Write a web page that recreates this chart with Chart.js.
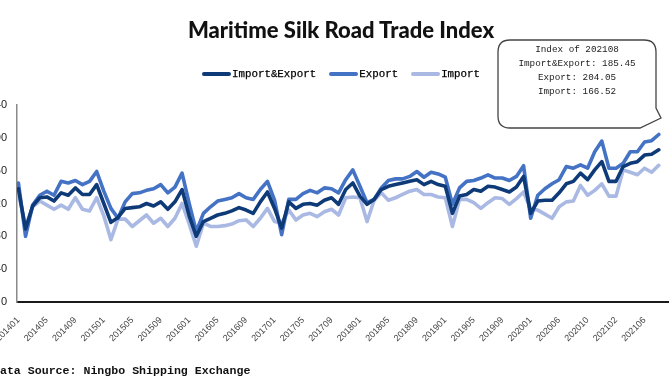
<!DOCTYPE html>
<html>
<head>
<meta charset="utf-8">
<script src="https://cdn.jsdelivr.net/npm/chart.js@4.4.0/dist/chart.umd.min.js"></script>
<style>
html,body{margin:0;padding:0;background:#fff;}
body{width:670px;height:380px;overflow:hidden;position:relative;font-family:"Liberation Sans",Arial,sans-serif;}
#wrap{position:absolute;left:-24px;top:0;width:694px;height:380px;}
#title{position:absolute;left:0;width:682px;top:16px;line-height:28px;text-align:center;font-weight:900;font-size:22px;font-family:Lato,"Liberation Sans",sans-serif;color:#111;white-space:nowrap;}
#legend{position:absolute;left:202px;top:66px;height:16px;display:flex;align-items:center;font-family:"Liberation Mono",monospace;font-size:10.8px;color:#000;white-space:nowrap;-webkit-text-stroke:0.25px #000;}
.item{display:flex;align-items:center;margin-right:13px;}
.swatch{display:inline-block;width:29px;height:4px;border-radius:2px;margin-right:1px;}
#callout{position:absolute;left:0;top:0;width:670px;height:140px;pointer-events:none;}
#calltext{position:absolute;left:498px;width:158px;top:43px;text-align:center;font-family:"Liberation Mono",monospace;font-size:9.3px;line-height:14px;color:#222;white-space:nowrap;}
#source{position:absolute;left:-7px;top:363px;font-family:"Liberation Mono",monospace;font-weight:bold;font-size:11.6px;line-height:16px;color:#111;white-space:nowrap;}
</style>
</head>
<body>
<div id="wrap"><canvas id="c"></canvas></div>
<div id="title">Maritime Silk Road Trade Index</div>
<div id="legend"></div>
<svg id="callout" width="670" height="140">
  <path d="M510,40 H644 Q656,40 656,52 V108 L661,118 L640,128 H510 Q498,128 498,116 V52 Q498,40 510,40 Z" fill="#fff" stroke="#444" stroke-width="1.3"/>
</svg>
<div id="calltext"></div>
<div id="source">Data Source: Ningbo Shipping Exchange</div>
<script>
const categories = [
"201401","201402","201403","201404","201405","201406","201407","201408","201409","201410","201411","201412",
"201501","201502","201503","201504","201505","201506","201507","201508","201509","201510","201511","201512",
"201601","201602","201603","201604","201605","201606","201607","201608","201609","201610","201611","201612",
"201701","201702","201703","201704","201705","201706","201707","201708","201709","201710","201711","201712",
"201801","201802","201803","201804","201805","201806","201807","201808","201809","201810","201811","201812",
"201901","201902","201903","201904","201905","201906","201907","201908","201909","201910","201911","201912",
"202001","202003","202004","202005","202006","202007","202008","202009","202010","202011","202012",
"202101","202102","202103","202104","202105","202106","202107","202108"
];
const seriesNames = ["Import&Export","Export","Import"];
const importExport = [
138,89,117,127,128,123,133,130,139,131,
131,143,120,97,103,114,115,116,120,117,
122,113,122,137,105,80,98,102,106,108,
111,115,112,108,122,134,114,90,122,114,
119,120,118,124,127,119,137,145,129,119,
125,137,141,143,145,147,149,143,147,143,
141,108,129,131,137,135,141,140,137,134,
140,153,108,123,124,124,133,144,147,157,
149,161,171,147,147,165,169,171,179,180,
185.45];
const exportIdx = [
145,80,118,130,135,130,147,145,148,143,
147,159,135,114,102,122,132,133,136,138,
143,133,140,157,120,86,108,116,123,125,
127,132,127,125,137,147,124,82,125,125,
132,136,133,139,138,133,149,161,141,121,
125,139,148,150,150,153,159,152,158,156,
152,119,139,147,148,151,155,151,151,148,
153,166,102,130,138,144,149,165,163,167,
163,183,196,163,163,169,183,183,195,196.5,
204.05];
const importIdx = [
132,92,116,123,118,113,118,113,127,113,
111,127,105,76,101,101,92,99,106,96,
102,92,102,120,95,68,96,92,92,93,
95,99,100,92,102,114,98,96,112,100,
106,108,104,110,113,106,127,128,127,98,
124,133,124,127,131,135,137,131,131,128,
127,92,125,125,121,114,121,127,126,119,
126,134,113,112,107,102,116,122,123,142,
130,136,144,129,129,161,158,155,163,158,
166.52];
const yTicks = [0,40,80,120,160,200,240];
const tickEvery = 4;

const colors = ["#0e3a78","#4472c4","#a9b9e3"];
const allSeries = [importExport, exportIdx, importIdx];

function pts(arr){ return arr.map((v,i)=>({x:i,y:v})); }

// legend
const lg = document.getElementById('legend');
seriesNames.forEach((n,k)=>{
  const it=document.createElement('div'); it.className='item';
  const sw=document.createElement('span'); sw.className='swatch'; sw.style.background=colors[k];
  const tx=document.createElement('span'); tx.textContent=n;
  it.appendChild(sw); it.appendChild(tx); lg.appendChild(it);
});
// callout
const last = categories.length-1;
document.getElementById('calltext').innerHTML =
  'Index of ' + categories[last] + '<br>' +
  seriesNames[0] + ': ' + importExport[last].toFixed(2) + '<br>' +
  seriesNames[1] + ': ' + exportIdx[last].toFixed(2) + '<br>' +
  seriesNames[2] + ': ' + importIdx[last].toFixed(2);

const cv = document.getElementById('c');
cv.width = 694; cv.height = 380;
new Chart(cv, {
  type: 'line',
  data: {
    datasets: allSeries.map((arr,k)=>({
      label: seriesNames[k],
      data: pts(arr),
      borderColor: colors[k],
      backgroundColor: colors[k],
      borderWidth: 3.6,
      pointRadius: 0,
      tension: 0,
      borderJoinStyle: 'round',
      borderCapStyle: 'round',
      fill: false
    }))
  },
  options: {
    responsive: false,
    animation: false,
    devicePixelRatio: 1,
    layout: {padding: {top: 105, right: 2, bottom: 0, left: 0}},
    plugins: {legend: {display: false}, title: {display: false}, tooltip: {enabled: false}},
    scales: {
      x: {
        type: 'linear',
        min: -0.2,
        max: 91.3,
        grid: {display: false, drawTicks: false},
        border: {display: true, color: '#1a1a1a', width: 2},
        ticks: {
          stepSize: tickEvery,
          includeBounds: false,
          autoSkip: false,
          maxRotation: 45,
          minRotation: 45,
          padding: 13,
          color: '#444',
          font: {family: '"Liberation Sans", Arial, sans-serif', size: 9},
          callback: (v)=> (Number.isInteger(v) && categories[v]) ? categories[v] : ''
        },
        afterFit: (s)=>{ s.height = 78; }
      },
      y: {
        min: 0, max: 240,
        grid: {display: false, drawTicks: false},
        border: {display: true, color: '#8a8a8a', width: 1.5},
        afterBuildTicks: (s)=>{ s.ticks = yTicks.map(v=>({value:v})); },
        ticks: {
          padding: 10,
          color: '#222',
          font: {family: '"Liberation Sans", Arial, sans-serif', size: 11}
        },
        afterFit: (s)=>{ s.width = 41; }
      }
    }
  }
});
</script>
</body>
</html>
